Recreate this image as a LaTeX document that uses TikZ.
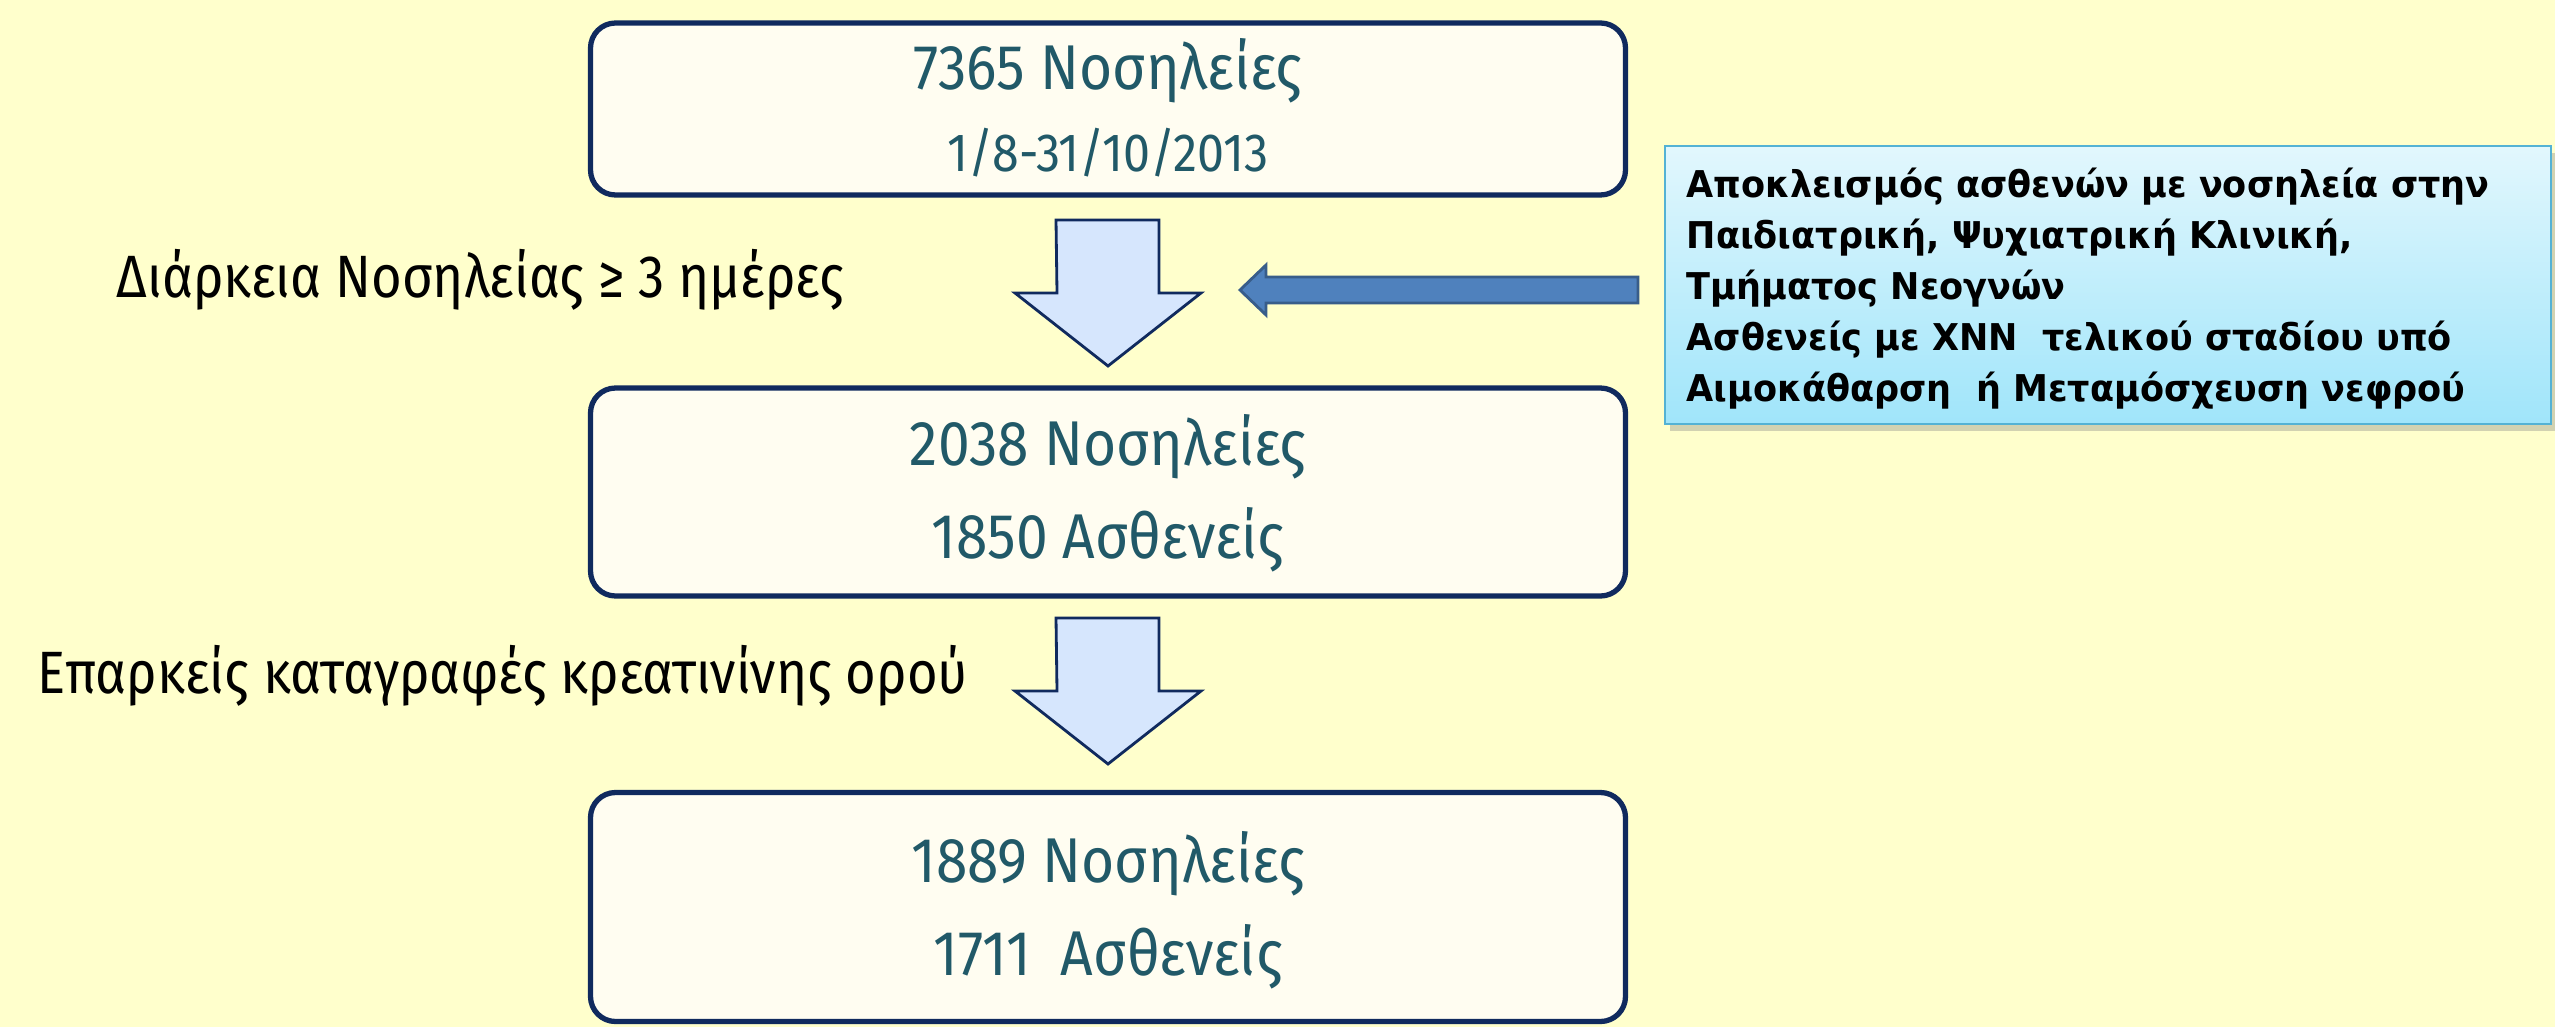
\documentclass[tikz,border=0pt]{standalone}
\usepackage{fontspec}
\setmainfont{Fira Sans}
\newfontfamily\narrowfont[FakeStretch=0.9]{Fira Sans}
\newfontfamily\labelfont[FakeStretch=0.88]{Fira Sans}
\newfontfamily\comicfont[FakeStretch=0.95]{DejaVu Sans}
\usetikzlibrary{shadows}

\definecolor{bgyellow}{RGB}{255,255,204}
\definecolor{boxfill}{RGB}{255,253,241}
\definecolor{boxline}{RGB}{16,42,94}
\definecolor{boxtext}{RGB}{33,89,104}
\definecolor{arrowfill}{RGB}{214,230,253}
\definecolor{sidefill}{RGB}{79,129,189}
\definecolor{sideline}{RGB}{56,93,138}
\definecolor{extop}{RGB}{226,247,253}
\definecolor{exbottom}{RGB}{160,229,250}
\definecolor{exline}{RGB}{84,178,212}

\begin{document}
\begin{tikzpicture}[x=0.1mm, y=-0.1mm,
    flowbox/.style={draw=boxline, line width=1.5pt, fill=boxfill, rounded corners=2.5mm,
      minimum width=103.5mm, inner sep=0pt},
    boxtext/.style={text=boxtext, font=\narrowfont\fontsize{18pt}{21pt}\selectfont, anchor=base, inner sep=0pt},
    steptext/.style={font=\labelfont\fontsize{17pt}{20pt}\selectfont, anchor=base west, inner sep=0pt},
    downarrow/.style={draw=boxline, line width=0.8pt, fill=arrowfill, line join=miter},
    exbox/.style={draw=exline, line width=0.8pt, top color=extop, bottom color=exbottom,
      minimum width=88.6mm, minimum height=27.8mm, inner sep=0pt,
      drop shadow={shadow xshift=0.5mm, shadow yshift=-0.7mm, opacity=0.35}},
    extext/.style={font=\comicfont\bfseries\fontsize{10.5pt}{12pt}\selectfont, anchor=base west, inner sep=0pt}]
  % Background
  \fill[bgyellow] (0,0) rectangle (2555,1027);
  \useasboundingbox (0,0) rectangle (2555,1027);
  % Flow boxes
  \node[flowbox, minimum height=17.2mm] (top) at (1108,109) {};
  \node[flowbox, minimum height=20.8mm] (mid) at (1108,492) {};
  \node[flowbox, minimum height=22.9mm] (bot) at (1108,907) {};
  \node[boxtext] (topa) at (1108,90) {7365 Νοσηλείες};
  \node[boxtext, font=\narrowfont\fontsize{15.3pt}{18pt}\selectfont] (topb) at (1108,172) {1/8-31/10/2013};
  \node[boxtext] (mida) at (1108,465) {2038 Νοσηλείες};
  \node[boxtext] (midb) at (1108,558) {1850 Ασθενείς};
  \node[boxtext] (bota) at (1108,882) {1889 Νοσηλείες};
  \node[boxtext] (botb) at (1108,975) {1711\ \ Ασθενείς};
  % Down arrows between the boxes
  \foreach \ya in {220,618}
    {\draw[downarrow] (1056,\ya) -- ++(103,0) -- ++(0,73) -- ++(42,0) -- ++(-93,73)
       -- ++(-93,-73) -- ++(42,0) -- cycle;}
  % Criteria
  \node[steptext] (crit1) at (116,298) {Διάρκεια Νοσηλείας ≥ 3 ημέρες};
  \node[steptext] (crit2) at (37,693) {Επαρκείς καταγραφές κρεατινίνης ορού};
  % Exclusions
  \node[exbox] (ex) at (2108,285) {};
  \foreach \t [count=\i from 0] in {Αποκλεισμός ασθενών με νοσηλεία στην,
      {Παιδιατρική, Ψυχιατρική Κλινική,},
      Τμήματος Νεογνών,
      Ασθενείς με ΧΝΝ\ \ τελικού σταδίου υπό,
      Αιμοκάθαρση\ \ ή Μεταμόσχευση νεφρού}
    {\node[extext] (ex\i) at (1686,198+50.8*\i) {\t};}
  \coordinate (extip) at (1240,290);
  \draw[sideline, line width=0.8pt, fill=sidefill] (extip) -- ++(26,-25) -- ++(0,12) -- (1638,277)
    -- (1638,303) -- (1266,303) -- ++(0,12) -- cycle;
\end{tikzpicture}
\end{document}
